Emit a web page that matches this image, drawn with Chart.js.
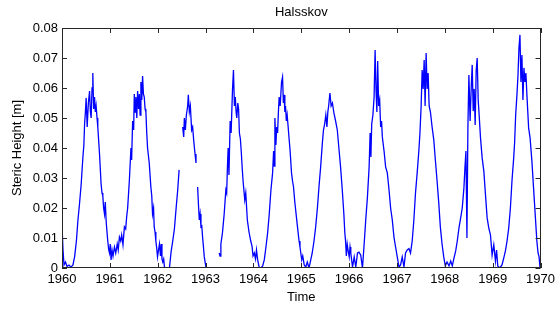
<!DOCTYPE html>
<html>
<head>
<meta charset="utf-8">
<title>Halsskov</title>
<script src="https://cdn.jsdelivr.net/npm/chart.js@4.4.0/dist/chart.umd.min.js"></script>
<style>
  html, body { margin: 0; padding: 0; background: #fff; }
  #wrap { width: 559px; height: 309px; }
</style>
</head>
<body>
<div id="wrap"><canvas id="myChart" width="559" height="309"></canvas></div>
<script>
// time axis (decimal years), one line per year; null heights mark gaps in the record
var time = [
  1960.000,1960.021,1960.042,1960.073,1960.104,1960.146,1960.187,1960.229,1960.264,1960.301,1960.333,1960.364,1960.401,1960.437,1960.457,1960.472,1960.489,1960.505,1960.526,1960.551,1960.576,
  1960.593,1960.609,1960.628,1960.644,1960.661,1960.680,1960.696,1960.713,1960.732,1960.748,1960.784,1960.817,1960.836,1960.853,1960.870,1960.888,1960.904,1960.925,1960.956,1960.977,1960.992,
  1961.008,1961.025,1961.046,1961.066,1961.096,1961.123,1961.154,1961.175,1961.200,1961.227,1961.247,1961.274,1961.304,1961.331,1961.351,1961.372,1961.407,1961.441,1961.455,1961.476,1961.497,1961.511,1961.528,1961.545,
  1961.563,1961.580,1961.601,1961.617,1961.632,1961.649,1961.667,1961.684,1961.701,1961.719,1961.736,1961.753,1961.771,1961.788,1961.823,1961.857,1961.876,1961.892,1961.913,1961.927,1961.944,1961.961,1961.979,1961.996,
  1962.017,1962.037,1962.058,1962.073,1962.089,1962.106,1962.125,1962.141,1962.173,1962.210,1962.245,1962.279,1962.314,1962.349,1962.385,1962.418,1962.447,1962.480,1962.522,1962.543,1962.557,
  1962.578,1962.599,1962.626,1962.640,1962.661,1962.682,1962.709,1962.730,1962.751,1962.780,1962.800,1962.817,1962.834,1962.852,1962.869,1962.886,1962.904,1962.921,1962.938,1962.956,1962.973,1963.008,1963.150,
  1963.285,1963.302,1963.320,1963.353,1963.389,1963.424,1963.441,1963.457,1963.472,1963.489,1963.514,1963.534,1963.562,1963.583,1963.603,1963.622,
  1963.638,1963.653,1963.674,1963.690,1963.707,1963.728,1963.749,1963.767,1963.784,1963.819,1963.840,1963.873,1963.908,1963.944,1963.971,1963.992,
  1964.019,1964.044,1964.064,1964.089,1964.123,1964.158,1964.193,1964.227,1964.262,1964.297,1964.331,1964.366,1964.401,1964.422,1964.437,1964.449,1964.470,1964.486,1964.505,1964.522,1964.538,
  1964.559,1964.588,1964.609,1964.626,1964.642,1964.657,1964.671,1964.688,1964.705,1964.726,1964.746,1964.767,1964.796,1964.817,1964.838,1964.865,1964.892,1964.921,1964.954,1964.973,1964.990,
  1965.010,1965.031,1965.062,1965.094,1965.125,1965.162,1965.198,1965.229,1965.266,1965.301,1965.337,1965.370,1965.405,1965.441,1965.464,1965.489,1965.513,1965.536,
  1965.555,1965.572,1965.599,1965.624,1965.651,1965.682,1965.717,1965.753,1965.786,1965.821,1965.857,1965.890,1965.909,1965.925,1965.942,1965.960,1965.977,
  1966.002,1966.019,1966.035,1966.071,1966.106,1966.139,1966.175,1966.206,1966.243,1966.279,1966.314,1966.347,1966.383,1966.418,1966.439,1966.455,1966.472,1966.497,
  1966.522,1966.543,1966.563,1966.580,1966.597,1966.617,1966.638,1966.659,1966.678,1966.694,1966.730,1966.763,1966.798,1966.834,1966.867,1966.902,1966.937,1966.971,
  1967.006,1967.042,1967.075,1967.110,1967.146,1967.179,1967.214,1967.250,1967.283,1967.318,1967.353,1967.387,1967.422,1967.457,1967.480,1967.505,1967.526,
  1967.547,1967.568,1967.588,1967.609,1967.630,1967.651,1967.672,1967.699,1967.734,1967.769,1967.802,1967.838,1967.873,1967.906,1967.942,1967.977,
  1968.010,1968.046,1968.087,1968.123,1968.156,1968.191,1968.227,1968.260,1968.295,1968.331,1968.364,1968.399,1968.420,1968.441,1968.462,1968.482,1968.503,1968.528,
  1968.551,1968.572,1968.593,1968.613,1968.634,1968.655,1968.676,1968.697,1968.717,1968.746,1968.780,1968.815,1968.850,1968.884,1968.919,1968.954,1968.988,
  1969.023,1969.058,1969.081,1969.106,1969.148,1969.195,1969.231,1969.266,1969.300,1969.335,1969.370,1969.403,1969.439,1969.459,1969.480,1969.507,1969.528,1969.549,
  1969.570,1969.590,1969.611,1969.632,1969.653,1969.674,1969.694,1969.715,1969.751,1969.782,1969.819,1969.854,1969.889,1969.923,1969.948,1969.969,1969.990
];
// steric height [m], same order as time
var height = [
  0.0143,0.006,0.001,0.002,0.0005,0.001,0.0003,0.001,0.0038,0.009,0.016,0.021,0.028,0.037,0.041,0.048,0.052,0.0567,0.047,0.055,0.059,
  0.052,0.050,0.060,0.065,0.053,0.057,0.052,0.054,0.050,0.047,0.038,0.028,0.025,0.024,0.020,0.018,0.022,0.015,0.009,0.006,0.005,
  0.008,0.0027,0.006,0.004,0.007,0.005,0.008,0.006,0.0103,0.009,0.011,0.0077,0.0137,0.013,0.017,0.020,0.029,0.040,0.036,0.049,0.046,0.058,0.052,0.057,
  0.050,0.059,0.053,0.058,0.051,0.062,0.056,0.064,0.058,0.057,0.053,0.052,0.045,0.040,0.035,0.027,0.024,0.018,0.020,0.0137,0.012,0.009,0.0067,0.0037,
  0.006,0.008,0.004,0.008,0.003,0.002,0.003,0.0003,0,0,0,0.0053,0.009,0.013,0.020,0.026,0.0327,null,0.047,0.0437,0.050,
  0.046,0.051,0.054,0.0577,0.052,0.054,0.046,0.047,0.0427,0.038,0.035,null,0.027,0.021,0.016,0.018,0.0137,0.014,0.0103,0.007,0.0037,0.0003,null,
  0.005,0.004,0.008,0.0117,0.018,0.026,0.025,0.0337,0.040,0.031,0.049,0.045,0.059,0.066,0.054,0.057,
  0.052,0.050,0.055,0.053,0.045,0.043,0.038,0.033,0.029,0.0227,0.025,0.016,0.012,0.009,0.0073,0.004,
  0.005,0.003,0.006,0.0027,0,0,0.0007,0.0027,0.007,0.0117,0.018,0.026,0.0317,0.039,0.034,0.050,0.041,0.047,0.045,0.052,0.057,
  0.054,0.062,0.0637,0.055,0.0577,0.052,0.054,0.049,0.051,0.047,0.043,0.039,0.0317,0.029,0.027,0.022,0.018,0.0137,0.009,0.007,0.005,
  0.0027,0.004,0.001,0.0003,0.002,0,0.0027,0.005,0.009,0.0137,0.020,0.027,0.0337,0.0417,0.046,0.048,0.051,0.047,
  0.052,0.054,0.0583,0.054,0.055,0.0517,0.049,0.046,0.040,0.0337,0.026,0.018,0.012,0.009,0.004,0.008,0.006,
  0.0037,0.007,0.005,0.0003,0.0037,0.0003,0.005,0.0053,0.0043,0,0.008,0.016,0.0237,0.0337,0.045,0.037,0.048,0.051,
  0.057,0.0727,0.059,0.052,0.069,0.054,0.056,0.047,0.049,0.0437,0.039,0.0337,0.0317,0.026,0.020,0.016,0.0103,0.007,
  0.0037,0.0003,0.001,0.0037,0.0003,0.005,0.006,0.0065,0.005,0.009,0.016,0.025,0.0317,0.039,0.045,0.054,0.066,
  0.0597,0.0693,0.054,0.0717,0.0597,0.065,0.054,0.052,0.047,0.0427,0.036,0.029,0.0217,0.0137,0.008,0.0037,
  0.0007,0.002,0.0007,0.0023,0.0007,0.0033,0.0057,0.009,0.0133,0.0167,0.020,0.0267,0.0333,0.039,0.010,0.0467,0.0643,0.049,
  0.060,0.0677,0.0523,0.0597,0.0477,0.0657,0.070,0.056,0.051,0.0433,0.0367,0.0323,0.0243,0.0167,0.0133,0.011,0.0043,
  0.0077,0.0023,0.006,0.0007,0,0.001,0.0033,0.0057,0.009,0.0133,0.020,0.029,0.0367,0.042,0.051,0.0577,0.064,0.0733,
  0.0777,0.062,0.071,0.056,0.0667,0.062,0.065,0.0577,0.0467,0.0433,0.0357,0.0267,0.0177,0.009,0.005,0.0037,0
];
var xTickLabels = ["1960","1961","1962","1963","1964","1965","1966","1967","1968","1969","1970"];
var yTickLabels = ["0","0.01","0.02","0.03","0.04","0.05","0.06","0.07","0.08"];

var points = [];
for (let i = 0; i < time.length; i++) {
    points.push({x: time[i], y: height[i]});
}

// matlab style box with ticks pointing inwards on all four sides
const frameTicks = {
    id: 'frameTicks',
    afterDatasetsDraw(chart) {
        const {ctx, chartArea, scales} = chart;
        const a = chartArea;
        ctx.save();
        ctx.strokeStyle = '#262626';
        ctx.lineWidth = 1;
        ctx.beginPath();
        scales.x.ticks.forEach(function (t) {
            const px = Math.round(scales.x.getPixelForValue(t.value)) + 0.5;
            ctx.moveTo(px, a.bottom); ctx.lineTo(px, a.bottom - 5);
            ctx.moveTo(px, a.top); ctx.lineTo(px, a.top + 5);
        });
        scales.y.ticks.forEach(function (t) {
            const py = Math.round(scales.y.getPixelForValue(t.value)) + 0.5;
            ctx.moveTo(a.left, py); ctx.lineTo(a.left + 5, py);
            ctx.moveTo(a.right, py); ctx.lineTo(a.right - 5, py);
        });
        ctx.stroke();
        ctx.strokeRect(Math.round(a.left) + 0.5, Math.round(a.top) + 0.5, Math.round(a.width) - 1, Math.round(a.height) - 1);
        ctx.restore();
    }
};

Chart.defaults.font.family = '"Liberation Sans", Arial, Helvetica, sans-serif';
Chart.defaults.font.size = 13;
Chart.defaults.color = '#000';

new Chart("myChart", {
    type: "line",
    data: {
        datasets: [{
            data: points,
            borderColor: "#0000ff",
            borderWidth: 1.3,
            pointRadius: 0,
            spanGaps: false,
            tension: 0
        }]
    },
    options: {
        responsive: false,
        animation: false,
        devicePixelRatio: 1,
        layout: { padding: { left: 0, right: 16, top: 0, bottom: 0 } },
        plugins: {
            legend: { display: false },
            tooltip: { enabled: false },
            title: {
                display: true,
                text: "Halsskov",
                fullSize: false,
                font: { size: 13, weight: "normal" },
                color: "#000",
                padding: { top: 5, bottom: 7.4 }
            }
        },
        scales: {
            x: {
                type: "linear",
                min: 1960,
                max: 1970,
                grid: { display: false, drawTicks: false },
                border: { display: false },
                ticks: {
                    stepSize: 1,
                    padding: 4,
                    maxRotation: 0,
                    callback: function (v) { return xTickLabels[Math.round(v - 1960)]; }
                },
                title: { display: true, text: "Time", padding: { top: 0, bottom: 4 } },
                afterFit: function (scale) { scale.height = 41; }
            },
            y: {
                min: 0,
                max: 0.08,
                grid: { display: false, drawTicks: false },
                border: { display: false },
                ticks: {
                    stepSize: 0.01,
                    padding: 4,
                    callback: function (v) { return yTickLabels[Math.round(v * 100)]; }
                },
                title: { display: true, text: "Steric Height [m]", padding: { top: 10, bottom: 0 } },
                afterFit: function (scale) { scale.width = 62; }
            }
        }
    },
    plugins: [frameTicks]
});
</script>
</body>
</html>
